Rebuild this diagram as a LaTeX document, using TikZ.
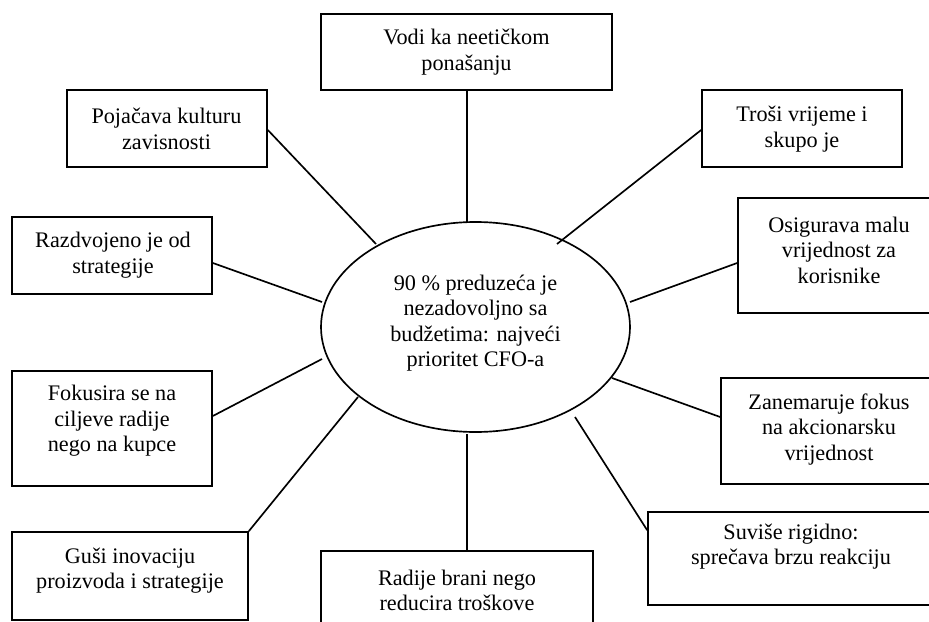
\documentclass[tikz,border=0pt]{standalone}
\usepackage{fontspec}
\setmainfont{Liberation Serif}
\usetikzlibrary{shapes.geometric,calc}
\begin{document}
\begin{tikzpicture}[x=0.54pt,y=-0.54pt,
  boxshape/.style={draw,line width=0.9pt,rectangle,inner sep=0pt},
  txt/.style={align=center,inner sep=0pt,font=\fontsize{12}{13.8}\selectfont},
  conn/.style={line width=0.9pt}]
\path[use as bounding box] (0,0) rectangle (929,622);
\clip (0,0) rectangle (929,622);
% boxes
\node[boxshape,minimum width=291*0.54pt,minimum height=76*0.54pt] (vodi) at (466.5,52) {};
\node[boxshape,minimum width=200*0.54pt,minimum height=77*0.54pt] (pojacava) at (167,128.5) {};
\node[boxshape,minimum width=200*0.54pt,minimum height=77*0.54pt] (trosi) at (802,128.5) {};
\node[boxshape,minimum width=200*0.54pt,minimum height=77*0.54pt] (razdvojeno) at (112,255.5) {};
\node[boxshape,minimum width=202*0.54pt,minimum height=115*0.54pt] (osigurava) at (839,255.5) {};
\node[boxshape,minimum width=200*0.54pt,minimum height=115*0.54pt] (fokusira) at (112,428.5) {};
\node[boxshape,minimum width=236*0.54pt,minimum height=88*0.54pt] (gusi) at (130,576) {};
\node[boxshape,minimum width=272*0.54pt,minimum height=89*0.54pt] (radije) at (457,595.5) {};
\node[boxshape,minimum width=216*0.54pt,minimum height=106*0.54pt] (zanemaruje) at (829,431) {};
\node[boxshape,minimum width=286*0.54pt,minimum height=93*0.54pt] (suvise) at (791,558.5) {};
\node[draw,line width=0.9pt,ellipse,inner sep=0pt,minimum width=309*0.54pt,minimum height=210*0.54pt] (c) at (475.5,327) {};
% texts
\node[txt] (vodi-t) at (466.5,52) {Vodi ka neetičkom\\ponašanju};
\node[txt] (pojacava-t) at (166.5,129) {Pojačava kulturu\\zavisnosti};
\node[txt] (trosi-t) at (802,129) {Troši vrijeme i\\skupo je};
\node[txt] (razdvojeno-t) at (113,255) {Razdvojeno je od\\strategije};
\node[txt] (osigurava-t) at (839,250) {Osigurava malu\\vrijednost za\\korisnike};
\node[txt] (fokusira-t) at (112,421) {Fokusira se na\\ciljeve radije\\nego na kupce};
\node[txt] (gusi-t) at (130,570.5) {Guši inovaciju\\proizvoda i strategije};
\node[txt] (radije-t) at (457,590.5) {Radije brani nego\\reducira troškove};
\node[txt] (zanemaruje-t) at (829,429.5) {Zanemaruje fokus\\na akcionarsku\\vrijednost};
\node[txt] (suvise-t) at (791,546.5) {Suviše rigidno:\\sprečava brzu reakciju};
\node[txt] (c-t) at (475.5,323) {90 \% preduzeća je\\nezadovoljno sa\\budžetima: najveći\\prioritet CFO-a};
% ellipse-side ends
\coordinate (e-vodi) at (467,222);
\coordinate (e-pojacava) at (376,244);
\coordinate (e-trosi) at (557,244);
\coordinate (e-razdvojeno) at (322,302);
\coordinate (e-osigurava) at (630,302);
\coordinate (e-fokusira) at (322,359);
\coordinate (e-gusi) at (358,397);
\coordinate (e-radije) at (467,434);
\coordinate (e-zanemaruje) at (612,378);
\coordinate (e-suvise) at (575,417);
% connectors
\draw[conn] ($(vodi.south)+(0.5,0)$) -- (e-vodi);
\draw[conn] ($(pojacava.east)+(0,1.5)$) -- (e-pojacava);
\draw[conn] ($(trosi.west)+(0,1.5)$) -- (e-trosi);
\draw[conn] ($(razdvojeno.east)+(0,7.5)$) -- (e-razdvojeno);
\draw[conn] ($(osigurava.west)+(0,7.5)$) -- (e-osigurava);
\draw[conn] ($(fokusira.east)+(0,-12.5)$) -- (e-fokusira);
\draw[conn] (gusi.north east) -- (e-gusi);
\draw[conn] ($(radije.north)+(10,0)$) -- (e-radije);
\draw[conn] ($(zanemaruje.west)+(0,-14)$) -- (e-zanemaruje);
\draw[conn] ($(suvise.north west)+(0,19)$) -- (e-suvise);
\end{tikzpicture}
\end{document}
